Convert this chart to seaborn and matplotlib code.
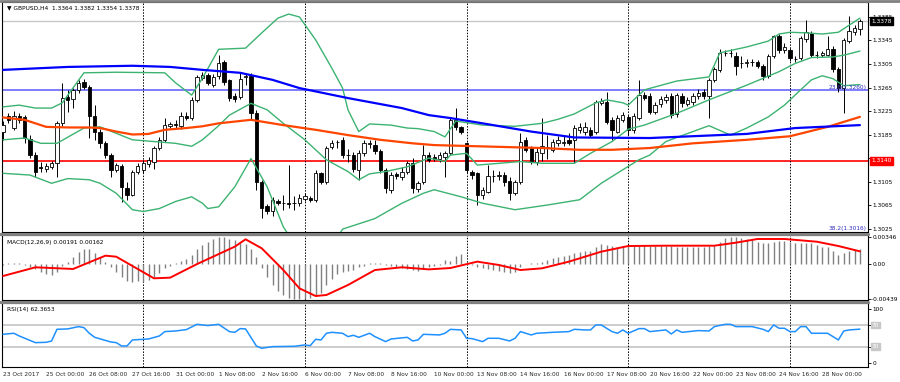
import numpy as np
import pandas as pd
import matplotlib
matplotlib.use("Agg")
import matplotlib.pyplot as plt
from matplotlib.lines import Line2D
import seaborn as sns

sns.set_style("white")
plt.rcParams['font.family'] = ['DejaVu Sans']

# ---------------- data (GBPUSD H4) ----------------
opens = [1.3190,1.3216,1.3196,1.3217,1.3214,1.3177,1.3150,1.3130,1.3127,1.3129,
         1.3137,1.3205,1.3248,1.3245,1.3261,1.3275,1.3266,1.3216,1.3190,1.3170,
         1.3150,1.3125,1.3131,1.3094,1.3082,1.3122,1.3124,1.3135,1.3139,1.3162,
         1.3176,1.3199,1.3203,1.3199,1.3217,1.3213,1.3244,1.3281,1.3286,1.3270,
         1.3284,1.3309,1.3277,1.3250,1.3248,1.3283,1.3284,1.3221,1.3105,1.3063,
         1.3055,1.3072,1.3069,1.3068,1.3068,1.3068,1.3076,1.3077,1.3074,1.3119,
         1.3105,1.3164,1.3172,1.3176,1.3150,1.3150,1.3125,1.3153,1.3169,1.3168,
         1.3157,1.3125,1.3091,1.3117,1.3113,1.3122,1.3136,1.3093,1.3105,1.3150,
         1.3147,1.3143,1.3146,1.3153,1.3210,1.3197,1.3170,1.3122,1.3119,1.3082,
         1.3088,1.3114,1.3115,1.3116,1.3106,1.3085,1.3105,1.3176,1.3162,1.3139,
         1.3153,1.3164,1.3159,1.3170,1.3171,1.3176,1.3176,1.3193,1.3190,1.3193,
         1.3190,1.3239,1.3241,1.3210,1.3190,1.3210,1.3214,1.3192,1.3213,1.3253,
         1.3250,1.3224,1.3237,1.3243,1.3250,1.3220,1.3251,1.3237,1.3241,1.3251,
         1.3258,1.3250,1.3278,1.3295,1.3323,1.3323,1.3319,1.3306,1.3307,1.3308,
         1.3308,1.3302,1.3285,1.3318,1.3352,1.3328,1.3328,1.3313,1.3315,1.3347,
         1.3357,1.3320,1.3320,1.3321,1.3330,1.3296,1.3264,1.3344,1.3359,1.3364]
highs = [1.3208,1.3222,1.3225,1.3222,1.3218,1.3185,1.3155,1.3138,1.3136,1.3140,
         1.3208,1.3272,1.3261,1.3265,1.3278,1.3280,1.3270,1.3235,1.3195,1.3174,
         1.3153,1.3137,1.3135,1.3105,1.3125,1.3136,1.3142,1.3147,1.3166,1.3180,
         1.3213,1.3207,1.3210,1.3224,1.3224,1.3248,1.3287,1.3292,1.3290,1.3288,
         1.3320,1.3312,1.3280,1.3255,1.3289,1.3290,1.3290,1.3226,1.3107,1.3066,
         1.3078,1.3075,1.3082,1.3133,1.3080,1.3083,1.3085,1.3080,1.3125,1.3122,
         1.3165,1.3176,1.3176,1.3180,1.3161,1.3155,1.3158,1.3176,1.3176,1.3175,
         1.3160,1.3128,1.3122,1.3122,1.3130,1.3140,1.3145,1.3106,1.3167,1.3156,
         1.3152,1.3155,1.3157,1.3213,1.3230,1.3200,1.3172,1.3125,1.3122,1.3095,
         1.3133,1.3125,1.3123,1.3122,1.3112,1.3108,1.3187,1.3180,1.3166,1.3162,
         1.3213,1.3184,1.3178,1.3182,1.3184,1.3187,1.3202,1.3205,1.3207,1.3198,
         1.3244,1.3247,1.3258,1.3215,1.3218,1.3223,1.3218,1.3222,1.3278,1.3258,
         1.3255,1.3240,1.3250,1.3254,1.3256,1.3256,1.3255,1.3248,1.3256,1.3262,
         1.3263,1.3282,1.3300,1.3330,1.3329,1.3330,1.3325,1.3318,1.3314,1.3313,
         1.3312,1.3305,1.3322,1.3355,1.3356,1.3340,1.3332,1.3318,1.3352,1.3380,
         1.3362,1.3327,1.3327,1.3352,1.3335,1.3300,1.3350,1.3386,1.3372,1.3382]
lows = [1.3176,1.3205,1.3193,1.3205,1.3170,1.3145,1.3113,1.3121,1.3122,1.3126,
        1.3113,1.3200,1.3224,1.3230,1.3255,1.3262,1.3179,1.3176,1.3162,1.3145,
        1.3113,1.3122,1.3071,1.3074,1.3080,1.3118,1.3120,1.3130,1.3127,1.3158,
        1.3172,1.3196,1.3196,1.3195,1.3210,1.3210,1.3240,1.3278,1.3270,1.3266,
        1.3280,1.3270,1.3242,1.3240,1.3245,1.3270,1.3210,1.3090,1.3043,1.3050,
        1.3046,1.3065,1.3057,1.3060,1.3057,1.3064,1.3072,1.3071,1.3070,1.3100,
        1.3100,1.3160,1.3162,1.3145,1.3139,1.3122,1.3108,1.3148,1.3162,1.3152,
        1.3119,1.3085,1.3085,1.3110,1.3108,1.3118,1.3085,1.3088,1.3100,1.3138,
        1.3140,1.3138,1.3113,1.3150,1.3192,1.3186,1.3120,1.3110,1.3065,1.3076,
        1.3085,1.3105,1.3108,1.3098,1.3074,1.3082,1.3100,1.3155,1.3134,1.3133,
        1.3140,1.3144,1.3155,1.3165,1.3166,1.3168,1.3136,1.3188,1.3185,1.3180,
        1.3186,1.3235,1.3203,1.3176,1.3187,1.3206,1.3185,1.3188,1.3210,1.3244,
        1.3220,1.3220,1.3232,1.3238,1.3213,1.3215,1.3232,1.3233,1.3236,1.3246,
        1.3245,1.3213,1.3274,1.3292,1.3318,1.3317,1.3286,1.3298,1.3300,1.3302,
        1.3298,1.3278,1.3282,1.3315,1.3324,1.3324,1.3310,1.3309,1.3312,1.3343,
        1.3317,1.3315,1.3317,1.3318,1.3292,1.3258,1.3221,1.3340,1.3355,1.3354]
closes = [1.3202,1.3210,1.3217,1.3210,1.3179,1.3150,1.3122,1.3128,1.3131,1.3136,
          1.3204,1.3247,1.3244,1.3261,1.3273,1.3266,1.3216,1.3190,1.3170,1.3150,
          1.3125,1.3133,1.3096,1.3082,1.3122,1.3132,1.3136,1.3141,1.3162,1.3176,
          1.3201,1.3203,1.3202,1.3216,1.3213,1.3244,1.3283,1.3286,1.3273,1.3283,
          1.3306,1.3275,1.3247,1.3246,1.3280,1.3284,1.3221,1.3105,1.3060,1.3055,
          1.3073,1.3068,1.3068,1.3067,1.3069,1.3077,1.3080,1.3074,1.3119,1.3105,
          1.3162,1.3170,1.3172,1.3150,1.3150,1.3127,1.3153,1.3170,1.3170,1.3157,
          1.3125,1.3094,1.3116,1.3114,1.3122,1.3136,1.3094,1.3102,1.3150,1.3142,
          1.3143,1.3150,1.3153,1.3210,1.3198,1.3190,1.3125,1.3116,1.3082,1.3091,
          1.3114,1.3115,1.3116,1.3104,1.3085,1.3105,1.3173,1.3159,1.3139,1.3156,
          1.3165,1.3164,1.3173,1.3175,1.3172,1.3171,1.3196,1.3198,1.3197,1.3185,
          1.3241,1.3242,1.3207,1.3193,1.3213,1.3219,1.3192,1.3216,1.3252,1.3247,
          1.3224,1.3235,1.3245,1.3249,1.3219,1.3253,1.3238,1.3243,1.3250,1.3256,
          1.3250,1.3278,1.3296,1.3323,1.3324,1.3323,1.3302,1.3306,1.3308,1.3308,
          1.3301,1.3285,1.3318,1.3352,1.3328,1.3334,1.3315,1.3314,1.3349,1.3360,
          1.3320,1.3321,1.3323,1.3330,1.3296,1.3265,1.3345,1.3362,1.3366,1.3378]

# Bollinger bands (read at selected bars)
bb_up_idx = [0,3,6,9,11,15,21,30,32,35,37,40,45,48,51,53,55,58,61,63,64,66,68,72,75,
             77,80,82,84,89,95,100,103,106,110,112,115,116,119,125,131,133,138,142,144,
             146,149,152,155,157,159]
bb_up = [1.3232,1.3235,1.3230,1.3230,1.3239,1.3290,1.3291,1.3290,1.3273,1.3252,1.3281,
         1.3330,1.3332,1.3358,1.3383,1.3390,1.3385,1.3346,1.3298,1.3264,1.3227,1.3190,
         1.3203,1.3201,1.3196,1.3195,1.3190,1.3181,1.3208,1.3201,1.3199,1.3204,1.3211,
         1.3220,1.3239,1.3244,1.3239,1.3235,1.3261,1.3276,1.3283,1.3324,1.3334,1.3344,
         1.3356,1.3359,1.3358,1.3356,1.3359,1.3371,1.3383]
bb_mid_idx = [0,4,7,10,15,18,21,24,28,32,35,37,40,42,46,49,52,56,60,64,66,68,71,75,79,
              82,83,86,88,92,96,100,106,109,113,116,119,125,131,138,144,147,150,154,156,159]
bb_mid = [1.3176,1.3179,1.3170,1.3170,1.3196,1.3198,1.3187,1.3176,1.3173,1.3170,1.3165,
          1.3176,1.3200,1.3218,1.3238,1.3227,1.3204,1.3176,1.3142,1.3122,1.3108,1.3118,
          1.3122,1.3130,1.3145,1.3139,1.3150,1.3153,1.3133,1.3136,1.3139,1.3136,1.3136,
          1.3153,1.3173,1.3194,1.3201,1.3221,1.3244,1.3269,1.3292,1.3306,1.3316,1.3317,
          1.3320,1.3327]
bb_lo_idx = [0,5,9,12,16,18,21,24,26,29,32,35,37,38,40,43,46,49,52,55,58,61,63,69,74,
             78,80,85,89,95,101,107,111,115,118,120,123,128,131,135,138,142,145,148,150,
             152,154,156,159]
bb_lo = [1.3119,1.3116,1.3102,1.3110,1.3108,1.3102,1.3085,1.3057,1.3054,1.3059,1.3071,
         1.3079,1.3068,1.3059,1.3062,1.3096,1.3144,1.3096,1.3028,1.2985,1.2975,1.2995,
         1.3024,1.3042,1.3068,1.3085,1.3091,1.3079,1.3068,1.3057,1.3065,1.3074,1.3102,
         1.3125,1.3142,1.3150,1.3173,1.3190,1.3200,1.3184,1.3196,1.3215,1.3235,1.3261,
         1.3278,1.3285,1.3280,1.3268,1.3270]

# Moving averages (read at selected bars)
ma_blue_idx = [0,12,24,31,37,44,50,55,64,74,79,83,89,98,106,120,138,147,159]
ma_blue = [1.3295,1.3300,1.3302,1.3300,1.3295,1.3290,1.3278,1.3264,1.3247,1.3230,1.3218,
           1.3213,1.3204,1.3190,1.3180,1.3179,1.3186,1.3196,1.3201]
ma_red_idx = [0,4,8,12,16,18,21,24,27,30,34,37,40,46,52,58,64,70,76,80,92,100,107,113,
              120,128,138,146,153,159]
ma_red = [1.3214,1.3210,1.3198,1.3197,1.3197,1.3196,1.3190,1.3185,1.3186,1.3193,1.3196,
          1.3199,1.3204,1.3210,1.3201,1.3193,1.3184,1.3176,1.3170,1.3167,1.3164,1.3162,
          1.3159,1.3159,1.3162,1.3170,1.3176,1.3182,1.3198,1.3215]

# MACD histogram (one per bar) and signal line
macd_hist = [-0.00005,0.00012,0.00012,0.00012,-0.00013,-0.00030,-0.00064,-0.00093,-0.00122,-0.00135,
             -0.00093,-0.00022,0.00033,0.00095,0.00158,0.00187,0.00187,0.00137,0.00087,0.00033,
             -0.00030,-0.00093,-0.00155,-0.00206,-0.00218,-0.00210,-0.00218,-0.00197,-0.00155,-0.00114,
             -0.00051,-0.00022,0.00012,0.00041,0.00062,0.00116,0.00187,0.00242,0.00283,0.00313,
             0.00346,0.00338,0.00313,0.00304,0.00262,0.00254,0.00187,0.00095,-0.00051,-0.00155,
             -0.00260,-0.00331,-0.00385,-0.00427,-0.00439,-0.00439,-0.00439,-0.00427,-0.00385,-0.00356,
             -0.00260,-0.00189,-0.00122,-0.00093,-0.00084,-0.00072,-0.00038,-0.00022,0.00012,0.00012,
             0.00020,-0.00009,-0.00022,-0.00038,-0.00051,-0.00064,-0.00072,-0.00080,-0.00064,-0.00038,
             -0.00022,-0.00009,0.00054,0.00045,0.00104,0.00129,0.00012,-0.00009,-0.00030,-0.00051,
             -0.00064,-0.00072,-0.00080,-0.00093,-0.00105,-0.00093,-0.00030,-0.00001,0.00012,0.00012,
             0.00033,0.00054,0.00074,0.00095,0.00108,0.00116,0.00137,0.00150,0.00166,0.00166,
             0.00221,0.00254,0.00242,0.00229,0.00221,0.00229,0.00233,0.00233,0.00233,0.00242,
             0.00233,0.00233,0.00233,0.00233,0.00229,0.00221,0.00221,0.00221,0.00212,0.00212,
             0.00221,0.00229,0.00242,0.00283,0.00325,0.00338,0.00338,0.00325,0.00313,0.00304,
             0.00283,0.00271,0.00271,0.00283,0.00292,0.00292,0.00283,0.00262,0.00262,0.00262,
             0.00262,0.00242,0.00221,0.00212,0.00171,0.00116,0.00137,0.00171,0.00179,0.00191]
sig_idx = [0,6,13,19,21,28,31,36,43,45,48,52,55,58,60,64,69,74,79,83,88,92,96,100,105,
           111,116,123,132,136,140,145,151,155,159]
sig_val = [-0.00147,-0.00038,-0.00059,0.00108,0.00095,-0.00176,-0.00168,0.00003,0.00221,
           0.00313,0.00200,-0.00072,-0.00302,-0.00398,-0.00385,-0.00260,-0.00072,-0.00038,
           -0.00064,-0.00047,0.00033,-0.00009,-0.00072,-0.00051,0.00033,0.00158,0.00229,
           0.00233,0.00233,0.00271,0.00317,0.00317,0.00283,0.00229,0.00162]

# RSI(14) (read at selected bars)
rsi_idx = [0,2,3,6,8,9,10,12,14,15,16,17,20,21,22,23,24,27,29,30,32,34,36,38,39,40,42,43,
           44,45,47,48,50,54,56,57,58,59,60,61,63,64,65,66,68,69,71,72,75,76,77,78,81,82,
           83,85,86,87,89,90,92,94,95,96,98,99,102,105,106,108,109,110,111,113,114,115,116,
           118,119,120,123,124,125,126,129,131,132,134,135,136,139,141,142,143,144,145,146,
           147,148,149,150,153,154,155,156,157,159]
rsi_val = [52.8,54.7,49.7,37.3,37.9,40.4,62.1,62.8,67.1,65.2,54.7,47.2,38.5,37.3,31.1,31.1,
           42.3,44.1,49.7,57.8,59.0,61.5,71.4,69.0,70.2,71.4,57.8,56.5,63.4,62.8,31.1,26.8,
           29.9,30.5,33.0,31.7,43.5,42.3,54.7,56.5,54.7,48.5,51.0,47.2,54.7,48.5,39.2,44.1,
           47.2,40.4,42.3,52.8,51.6,54.7,62.0,60.9,45.4,44.8,39.2,45.4,45.4,40.4,45.4,57.8,
           51.6,54.7,56.5,57.8,62.1,60.9,60.9,70.2,70.2,57.8,54.7,60.9,54.7,63.4,63.4,57.8,
           60.9,53.4,60.9,56.5,59.7,59.0,67.1,71.4,71.4,67.1,67.1,62.1,57.8,70.2,64.0,64.0,
           57.8,57.8,67.1,67.1,54.7,54.7,48.5,42.3,59.0,60.9,62.4]

price_ticks = [1.3025,1.3065,1.3105,1.3145,1.3185,1.3225,1.3265,1.3305,1.3345,1.3385]
date_labels = ["23 Oct 2017","25 Oct 00:00","26 Oct 08:00","27 Oct 16:00","31 Oct 00:00",
               "1 Nov 08:00","2 Nov 16:00","6 Nov 00:00","7 Nov 08:00","8 Nov 16:00",
               "10 Nov 00:00","13 Nov 08:00","14 Nov 16:00","16 Nov 00:00","17 Nov 08:00",
               "20 Nov 16:00","22 Nov 00:00","23 Nov 08:00","24 Nov 16:00","28 Nov 00:00"]
week_seps = [26, 56, 86, 116, 146]
fib_236 = 1.3260
fib_382 = 1.3016
level_red = 1.3140
bid = 1.3378

# ---------------- figure ----------------
W, H = 900, 382
fig = plt.figure(figsize=(9, 3.82), dpi=100)
fig.patch.set_facecolor("white")

def ax_px(x0, y0, x1, y1):
    return fig.add_axes([x0 / W, 1 - y1 / H, (x1 - x0) / W, (y1 - y0) / H])

ax = ax_px(2, 2, 868, 232)
axm = ax_px(2, 235, 868, 300)
axr = ax_px(2, 303, 868, 367)

n = len(closes)
idx = np.arange(n)
XL = (-0.2, 160.5)
FS = 4.2
YLO, YHI = 1.30191, 1.34105

df = pd.DataFrame({"i": idx, "o": opens, "h": highs, "l": lows, "c": closes})

# candles
ax.vlines(df["i"], df["l"], df["h"], color="black", lw=0.7, zorder=2)
bull = df["c"] >= df["o"]
bot = np.minimum(df["o"], df["c"])
hgt = np.maximum(np.abs(df["c"] - df["o"]), 0.00004)
ax.bar(df["i"][bull], hgt[bull], bottom=bot[bull], width=0.62, color="white",
       edgecolor="black", lw=0.6, zorder=3)
ax.bar(df["i"][~bull], hgt[~bull], bottom=bot[~bull], width=0.62, color="black",
       edgecolor="black", lw=0.6, zorder=3)

# horizontal levels
ax.axhline(bid, color="#c8c8c8", lw=1.0, zorder=1)
ax.axhline(fib_236, color="#5a5aff", lw=1.1, zorder=1)
ax.axhline(fib_382, color="#5a5aff", lw=1.1, ls=(0, (2, 1)), zorder=1)
ax.axhline(level_red, color="#ff0000", lw=1.2, zorder=1)

# indicators via seaborn
green = "#3cb371"
for xs, ys in [(bb_up_idx, bb_up), (bb_mid_idx, bb_mid), (bb_lo_idx, bb_lo)]:
    sns.lineplot(x=xs, y=ys, ax=ax, color=green, lw=1.0, sort=False, estimator=None, zorder=4)
sns.lineplot(x=ma_red_idx, y=ma_red, ax=ax, color="#ff4500", lw=1.6, sort=False,
             estimator=None, zorder=4)
sns.lineplot(x=ma_blue_idx, y=ma_blue, ax=ax, color="#0000ff", lw=1.6, sort=False,
             estimator=None, zorder=4)

ax.set_xlim(*XL)
ax.set_ylim(YLO, YHI)

# MACD
axm.vlines(idx, 0, macd_hist, color="#808080", lw=1.0, zorder=2)
sns.lineplot(x=sig_idx, y=sig_val, ax=axm, color="#ff0000", lw=1.4, sort=False,
             estimator=None, zorder=3)
axm.set_xlim(*XL)
axm.set_ylim(-0.00448, 0.00367)

# RSI
axr.axhline(70, color="#c8c8c8", lw=1.3, zorder=1)
axr.axhline(30, color="#c8c8c8", lw=1.3, zorder=1)
sns.lineplot(x=rsi_idx, y=rsi_val, ax=axr, color="#1e90ff", lw=1.1, sort=False,
             estimator=None, zorder=3)
axr.set_xlim(*XL)
axr.set_ylim(-8, 111)

# separators, frames, ticks
for a in (ax, axm, axr):
    for s in a.spines.values():
        s.set_color("black")
        s.set_linewidth(0.8)
    for sx in week_seps:
        a.axvline(sx, color="black", lw=0.7, ls=(0, (1.5, 1.5)), zorder=1)
    a.set_xlabel("")
    a.set_ylabel("")
    a.yaxis.tick_right()
    a.tick_params(axis="y", which="both", direction="out", length=2, width=0.6,
                  labelsize=FS, pad=1, colors="black")
    a.set_xticks([])

ax.set_yticks(price_ticks)
ax.set_yticklabels(["" if abs(p - 1.3145) < 1e-6 else f"{p:.4f}" for p in price_ticks])
axm.set_yticks([0.00346, 0.0, -0.00439])
axm.set_yticklabels(["0.00346", "0.00", "-0.00439"])
axr.set_yticks([100, 70, 30, 0])
axr.set_yticklabels(["100", "", "", "0"])

axr.set_xticks(np.arange(0, 160, 8))
axr.set_xticklabels(date_labels)
axr.tick_params(axis="x", direction="out", length=2, width=0.6, labelsize=FS, pad=1.5)
for t in axr.get_xticklabels():
    t.set_ha("left")

# gray panel separators
for yy in (233.5, 301.5):
    fig.add_artist(Line2D([0, 868 / W], [1 - yy / H, 1 - yy / H], color="#808080", lw=2.2,
                          transform=fig.transFigure))
fig.add_artist(Line2D([0, 1], [1 - 0.5 / H, 1 - 0.5 / H], color="#808080", lw=2,
                      transform=fig.transFigure))

# labels
ax.text(0.006, 0.985, "\u25BC GBPUSD,H4  1.3364 1.3382 1.3354 1.3378", transform=ax.transAxes,
        ha="left", va="top", fontsize=FS, color="black")
axm.text(0.006, 0.93, "MACD(12,26,9) 0.00191 0.00162", transform=axm.transAxes,
         ha="left", va="top", fontsize=FS, color="black")
axr.text(0.006, 0.93, "RSI(14) 62.3653", transform=axr.transAxes,
         ha="left", va="top", fontsize=FS, color="black")
ax.text(160.3, fib_236, "23.6(1.3260)", ha="right", va="bottom", fontsize=FS, color="#3030c0",
        zorder=6)
ax.text(160.3, 1.30200, "38.2(1.3016)", ha="right", va="bottom", fontsize=FS, color="#3030c0",
        zorder=6)

# price tags on the right scale
ax.text(1.004, (bid - YLO) / (YHI - YLO), "1.3378", transform=ax.transAxes,
        ha="left", va="center", fontsize=FS, color="white",
        bbox=dict(boxstyle="square,pad=0.2", fc="black", ec="black"))
ax.text(1.004, (level_red - YLO) / (YHI - YLO), "1.3140", transform=ax.transAxes,
        ha="left", va="center", fontsize=FS, color="white",
        bbox=dict(boxstyle="square,pad=0.2", fc="#ff0000", ec="#ff0000"))
for lv in (70, 30):
    axr.text(1.004, (lv + 8) / 119, str(lv), transform=axr.transAxes, ha="left", va="center",
             fontsize=FS, color="white",
             bbox=dict(boxstyle="square,pad=0.15", fc="#c8c8c8", ec="#c8c8c8"))

fig.savefig("out.png", dpi=100, facecolor="white")
